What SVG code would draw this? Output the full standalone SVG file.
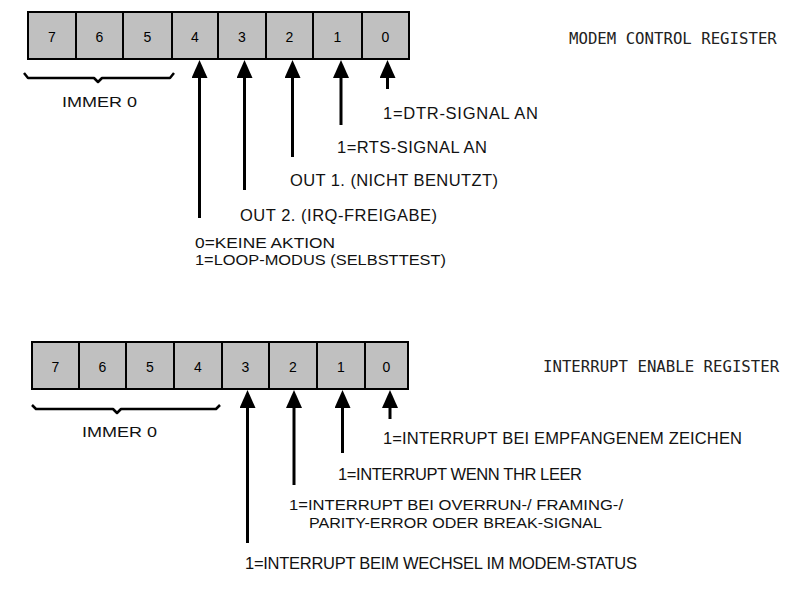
<svg xmlns="http://www.w3.org/2000/svg" width="790" height="610" viewBox="0 0 790 610">
<style>
.reg{fill:#c0c0c0;stroke:#000;stroke-width:2}
.div{stroke:#000;stroke-width:2}
.num{font-family:"Liberation Sans",Arial,sans-serif;font-size:14px;fill:#000;text-anchor:middle}
.lbl{font-family:"Liberation Sans",Arial,sans-serif;font-size:16.5px;fill:#111}
.sm{font-size:15.5px}
.two{font-size:15px}
.title{font-family:"DejaVu Sans Mono","Liberation Mono",monospace;font-size:15.7px;fill:#222}
.arr{stroke:#000;stroke-width:3;fill:none;marker-end:url(#head)}
.brace{stroke:#000;stroke-width:2.5;fill:none;stroke-linejoin:round}
</style>
<defs>
<marker id="head" markerUnits="userSpaceOnUse" markerWidth="18" markerHeight="16" refX="0" refY="8" orient="auto">
<path d="M0,0 L18,8 L0,16 Z" fill="#000"/>
</marker>
</defs>
<rect width="790" height="610" fill="#fff"/>

<g id="mcr-register">
<rect class="reg" x="28" y="12" width="381" height="47"/>
<path class="div" d="M76,12V59M123,12V59M172,12V59M218,12V59M266,12V59M313,12V59M362,12V59"/>
<text class="num" x="52" y="42">7</text>
<text class="num" x="99.5" y="42">6</text>
<text class="num" x="147.5" y="42">5</text>
<text class="num" x="195" y="42">4</text>
<text class="num" x="242" y="42">3</text>
<text class="num" x="289.5" y="42">2</text>
<text class="num" x="337.5" y="42">1</text>
<text class="num" x="385.5" y="42">0</text>
</g>
<g id="mcr-title"><text class="title" x="569" y="44">MODEM CONTROL REGISTER</text></g>
<g id="mcr-immer"><text class="lbl sm" x="62" y="107" textLength="75" lengthAdjust="spacingAndGlyphs">IMMER 0</text></g>
<g id="mcr-bit0"><text class="lbl" x="383" y="119" textLength="155">1=DTR-SIGNAL AN</text></g>
<g id="mcr-bit1"><text class="lbl" x="337" y="153" textLength="150">1=RTS-SIGNAL AN</text></g>
<g id="mcr-bit2"><text class="lbl" x="290" y="186" textLength="208">OUT 1. (NICHT BENUTZT)</text></g>
<g id="mcr-bit3"><text class="lbl" x="240" y="221" textLength="197">OUT 2. (IRQ-FREIGABE)</text></g>
<g id="mcr-bit4">
<text class="lbl two" x="195" y="247.5" textLength="140" lengthAdjust="spacingAndGlyphs">0=KEINE AKTION</text>
<text class="lbl two" x="195" y="265" textLength="251" lengthAdjust="spacingAndGlyphs">1=LOOP-MODUS (SELBSTTEST)</text>
</g>

<g id="ier-register">
<rect class="reg" x="32" y="342" width="376" height="47"/>
<path class="div" d="M79,342V389M126,342V389M174,342V389M222,342V389M269,342V389M317,342V389M365,342V389"/>
<text class="num" x="55.5" y="372">7</text>
<text class="num" x="102.5" y="372">6</text>
<text class="num" x="150" y="372">5</text>
<text class="num" x="198" y="372">4</text>
<text class="num" x="245.5" y="372">3</text>
<text class="num" x="293" y="372">2</text>
<text class="num" x="341" y="372">1</text>
<text class="num" x="386.5" y="372">0</text>
</g>
<g id="ier-title"><text class="title" x="543" y="372">INTERRUPT ENABLE REGISTER</text></g>
<g id="ier-immer"><text class="lbl sm" x="82" y="437" textLength="75" lengthAdjust="spacingAndGlyphs">IMMER 0</text></g>
<g id="ier-bit0"><text class="lbl" x="383" y="444" textLength="359">1=INTERRUPT BEI EMPFANGENEM ZEICHEN</text></g>
<g id="ier-bit1"><text class="lbl" x="338" y="480" textLength="244">1=INTERRUPT WENN THR LEER</text></g>
<g id="ier-bit2">
<text class="lbl two" x="289" y="510" textLength="334" lengthAdjust="spacingAndGlyphs">1=INTERRUPT BEI OVERRUN-/ FRAMING-/</text>
<text class="lbl two" x="309" y="527.5" textLength="293" lengthAdjust="spacingAndGlyphs">PARITY-ERROR ODER BREAK-SIGNAL</text>
</g>
<g id="ier-bit3"><text class="lbl" x="245" y="569" textLength="392">1=INTERRUPT BEIM WECHSEL IM MODEM-STATUS</text></g>

<g id="connectors">
<path class="arr" d="M199.5,218V78"/>
<path class="arr" d="M244.5,190V78"/>
<path class="arr" d="M292.5,157V78"/>
<path class="arr" d="M341,125V78"/>
<path class="arr" d="M387.5,89V78"/>
<path class="brace" d="M24,73 L28,78 L94,78 L98,82 L102,78 L170,78 L174,73"/>
<path class="arr" d="M247.5,543V408"/>
<path class="arr" d="M294,485V408"/>
<path class="arr" d="M342.5,453V408"/>
<path class="arr" d="M390,419V408"/>
<path class="brace" d="M32,405 L36,409 L113,409 L117,413 L121,409 L216,409 L220,405"/>
</g>
</svg>
